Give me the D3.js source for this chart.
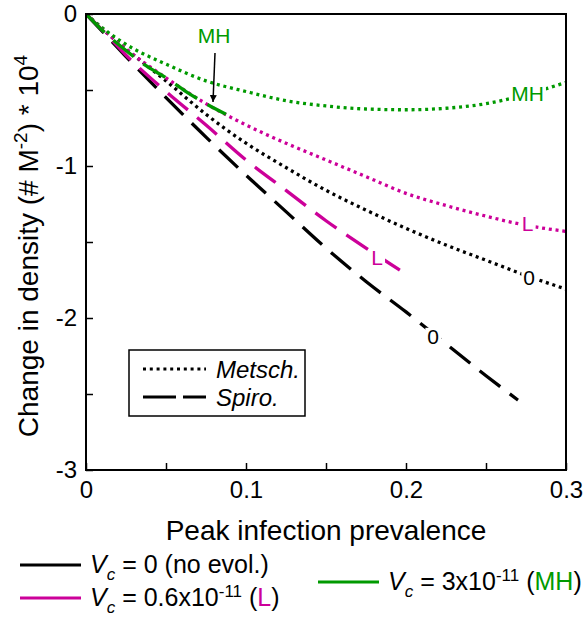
<!DOCTYPE html>
<html>
<head>
<meta charset="utf-8">
<script src="https://cdn.jsdelivr.net/npm/d3@7"></script>
<style>
  body { margin: 0; background: #fff; }
  svg { font-family: "Liberation Sans", Arial, sans-serif; }
</style>
</head>
<body>
<div id="chart"></div>
<script>
// DATA
var prevMetsch = [0, 0.0125, 0.025, 0.05, 0.075, 0.1, 0.125, 0.15, 0.175, 0.2, 0.225, 0.25, 0.275, 0.3];
var metschNoEvol = [0, -0.12, -0.23, -0.44, -0.66, -0.85, -1.01, -1.16, -1.29, -1.41, -1.52, -1.62, -1.72, -1.81];
var metschL = [0, -0.12, -0.23, -0.42, -0.59, -0.73, -0.85, -0.96, -1.07, -1.18, -1.26, -1.33, -1.39, -1.43];
var metschMH = [0, -0.11, -0.2, -0.33, -0.44, -0.51, -0.57, -0.605, -0.625, -0.63, -0.62, -0.59, -0.53, -0.45];

var prevSpiroNoEvol = [0, 0.0125, 0.025, 0.05, 0.075, 0.1, 0.125, 0.15, 0.175, 0.2, 0.225, 0.25, 0.27];
var spiroNoEvol = [0, -0.14, -0.28, -0.55, -0.81, -1.06, -1.3, -1.54, -1.76, -1.96, -2.17, -2.38, -2.54];
var prevSpiroL = [0, 0.0125, 0.025, 0.05, 0.075, 0.1, 0.125, 0.15, 0.175, 0.2];
var spiroL = [0, -0.13, -0.27, -0.51, -0.73, -0.96, -1.16, -1.36, -1.54, -1.71];
var prevSpiroMH = [0, 0.0125, 0.025, 0.0375, 0.05, 0.0625, 0.075, 0.0875];
var spiroMH = [0, -0.13, -0.24, -0.34, -0.42, -0.51, -0.59, -0.66];

var xTicks = [0, 0.05, 0.1, 0.15, 0.2, 0.25, 0.3];
var xTickLabels = ["0", "", "0.1", "", "0.2", "", "0.3"];
var yTicks = [0, -0.5, -1, -1.5, -2, -2.5, -3];
var yTickLabels = ["0", "", "-1", "", "-2", "", "-3"];

// CHART SETUP
var black = "#000000";
var magenta = "#cc0099";
var green = "#009a00";
var dotted = "3,3.8";
var dashed = "26,12";

var width = 585, height = 618;
var plot = { left: 86, right: 566, top: 14, bottom: 470 };

var svg = d3
  .select("#chart")
  .append("svg")
  .attr("width", width)
  .attr("height", height);

var xScale = d3.scaleLinear().domain([0, 0.3]).range([plot.left, plot.right]);
var yScale = d3.scaleLinear().domain([-3, 0]).range([plot.bottom, plot.top]);

svg.append("defs")
  .append("clipPath")
  .attr("id", "clip")
  .append("rect")
  .attr("x", plot.left)
  .attr("y", plot.top)
  .attr("width", plot.right - plot.left)
  .attr("height", plot.bottom - plot.top);

// CURVES
var series = [
  { xs: prevMetsch, ys: metschNoEvol, color: black, dash: dotted },
  { xs: prevMetsch, ys: metschL, color: magenta, dash: dotted },
  { xs: prevMetsch, ys: metschMH, color: green, dash: dotted },
  { xs: prevSpiroNoEvol, ys: spiroNoEvol, color: black, dash: dashed },
  { xs: prevSpiroL, ys: spiroL, color: magenta, dash: dashed },
  { xs: prevSpiroMH, ys: spiroMH, color: green, dash: dashed },
];

var line = d3
  .line()
  .x((d) => xScale(d[0]))
  .y((d) => yScale(d[1]))
  .curve(d3.curveMonotoneX);

svg
  .append("g")
  .attr("clip-path", "url(#clip)")
  .selectAll(".curve")
  .data(series)
  .enter()
  .append("path")
  .attr("class", "curve")
  .attr("d", (s) => line(s.xs.map((x, i) => [x, s.ys[i]])))
  .attr("fill", "none")
  .attr("stroke", (s) => s.color)
  .attr("stroke-width", 3.3)
  .attr("stroke-dasharray", (s) => s.dash);

// CURVE LABELS (white box breaks the line)
var curveLabels = [
  { text: "MH", px: 0.276, val: -0.52, color: green },
  { text: "L", px: 0.276, val: -1.38, color: magenta },
  { text: "0", px: 0.277, val: -1.73, color: black },
  { text: "0", px: 0.217, val: -2.12, color: black },
  { text: "L", px: 0.182, val: -1.6, color: magenta },
];

curveLabels.forEach(function (l) {
  var g = svg.append("g");
  var t = g
    .append("text")
    .attr("x", xScale(l.px))
    .attr("y", yScale(l.val))
    .attr("dy", "0.36em")
    .attr("text-anchor", "middle")
    .style("font-size", "21px")
    .style("fill", l.color)
    .text(l.text);
  var b = t.node().getBBox();
  g.insert("rect", "text")
    .attr("x", b.x - 2)
    .attr("y", b.y + 3)
    .attr("width", b.width + 4)
    .attr("height", b.height - 6)
    .attr("fill", "#fff");
});

// MH ARROW
svg.append("defs")
  .append("marker")
  .attr("id", "arrow")
  .attr("viewBox", "0 0 10 10")
  .attr("refX", 10)
  .attr("refY", 5)
  .attr("markerWidth", 7)
  .attr("markerHeight", 7)
  .attr("markerUnits", "userSpaceOnUse")
  .attr("orient", "auto")
  .append("path")
  .attr("d", "M0,0 L10,5 L0,10 z")
  .attr("fill", black);

svg.append("text")
  .attr("x", 214)
  .attr("y", 43)
  .attr("text-anchor", "middle")
  .style("font-size", "21px")
  .style("fill", green)
  .text("MH");

svg.append("line")
  .attr("x1", 215)
  .attr("y1", 53)
  .attr("x2", 213)
  .attr("y2", 102)
  .attr("stroke", black)
  .attr("stroke-width", 1.5)
  .attr("marker-end", "url(#arrow)");

// AXES
var xAxis = d3
  .axisBottom(xScale)
  .tickValues(xTicks)
  .tickSize(-7)
  .tickPadding(11)
  .tickFormat((d, i) => xTickLabels[i]);

var yAxis = d3
  .axisLeft(yScale)
  .tickValues(yTicks)
  .tickSize(-7)
  .tickPadding(9)
  .tickFormat((d, i) => yTickLabels[i]);

var gx = svg
  .append("g")
  .attr("transform", "translate(0," + plot.bottom + ")")
  .call(xAxis);
var gy = svg
  .append("g")
  .attr("transform", "translate(" + plot.left + ",0)")
  .call(yAxis);

[gx, gy].forEach(function (g) {
  g.select(".domain").remove();
  g.selectAll("line").attr("stroke", black).attr("stroke-width", 1.5);
  g.selectAll("text")
    .style("font-size", "24px")
    .style("font-family", '"Liberation Sans", Arial, sans-serif')
    .style("fill", black);
});

// frame
svg.append("rect")
  .attr("x", plot.left)
  .attr("y", plot.top)
  .attr("width", plot.right - plot.left)
  .attr("height", plot.bottom - plot.top)
  .attr("fill", "none")
  .attr("stroke", black)
  .attr("stroke-width", 2);

// AXIS TITLES
svg.append("text")
  .attr("x", 326)
  .attr("y", 540)
  .attr("text-anchor", "middle")
  .style("font-size", "28px")
  .text("Peak infection prevalence");

var yTitle = svg.append("text")
  .attr("transform", "translate(38,246) rotate(-90)")
  .attr("text-anchor", "middle")
  .style("font-size", "28px");
yTitle.append("tspan").text("Change in density (# M");
yTitle.append("tspan").attr("dy", -11).style("font-size", "19px").text("-2");
yTitle.append("tspan").attr("dy", 11).text(") * 10");
yTitle.append("tspan").attr("dy", -11).style("font-size", "19px").text("4");

// INNER LEGEND (line type)
var typeLegend = [
  { name: "Metsch.", dash: dotted },
  { name: "Spiro.", dash: "33,7" },
];

svg.append("rect")
  .attr("x", 129)
  .attr("y", 350)
  .attr("width", 176)
  .attr("height", 66)
  .attr("fill", "#fff")
  .attr("stroke", black)
  .attr("stroke-width", 1.5);

typeLegend.forEach(function (d, i) {
  var yy = 369 + i * 28;
  svg.append("line")
    .attr("x1", 143)
    .attr("x2", 206)
    .attr("y1", yy)
    .attr("y2", yy)
    .attr("stroke", black)
    .attr("stroke-width", 3)
    .attr("stroke-dasharray", d.dash);
  svg.append("text")
    .attr("x", 216)
    .attr("y", yy + 9)
    .style("font-size", "24px")
    .style("font-style", "italic")
    .text(d.name);
});

// BOTTOM LEGEND (Vc)
var vcLegend = [
  { x: 20, y: 565, color: black, value: "0", exp: "", tag: "no evol.", tagColor: black },
  { x: 20, y: 598, color: magenta, value: "0.6x10", exp: "-11", tag: "L", tagColor: magenta },
  { x: 318, y: 582, color: green, value: "3x10", exp: "-11", tag: "MH", tagColor: green },
];

vcLegend.forEach(function (d) {
  svg.append("line")
    .attr("x1", d.x)
    .attr("x2", d.x + 61)
    .attr("y1", d.y)
    .attr("y2", d.y)
    .attr("stroke", d.color)
    .attr("stroke-width", 3);
  var t = svg.append("text")
    .attr("x", d.x + 70)
    .attr("y", d.y + 8)
    .style("font-size", "25px");
  t.append("tspan").style("font-style", "italic").text("V");
  t.append("tspan").attr("dy", 7).style("font-style", "italic").style("font-size", "17px").text("c");
  t.append("tspan").attr("dy", -7).text(" = " + d.value);
  if (d.exp) {
    t.append("tspan").attr("dy", -9).style("font-size", "17px").text(d.exp);
    t.append("tspan").attr("dy", 9).text(" (");
  } else {
    t.append("tspan").text(" (");
  }
  t.append("tspan").style("fill", d.tagColor).text(d.tag);
  t.append("tspan").text(")");
});
</script>
</body>
</html>
